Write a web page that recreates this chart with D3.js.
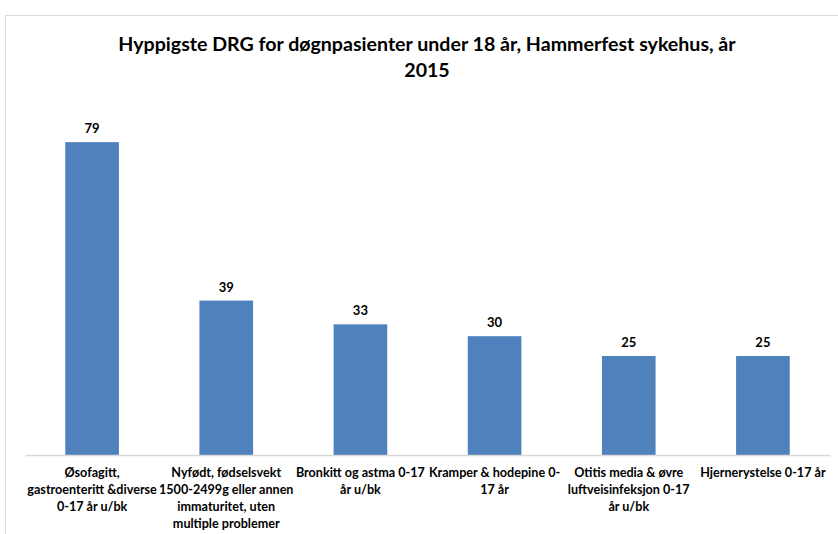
<!DOCTYPE html>
<html>
<head>
<meta charset="utf-8">
<script src="https://cdn.jsdelivr.net/npm/d3@7/dist/d3.min.js"></script>
<style>
  html, body { margin: 0; padding: 0; background: #fff; }
  svg { display: block; }
  text { font-family: Lato, "Open Sans", sans-serif; font-weight: bold; fill: #000; }
</style>
</head>
<body>
<svg id="chart" width="838" height="534"></svg>
<script>
// Most frequent DRG groups, inpatients under 18, Hammerfest hospital 2015
const categories = [
  "Øsofagitt, gastroenteritt &diverse 0-17 år u/bk",
  "Nyfødt, fødselsvekt 1500-2499g eller annen immaturitet, uten multiple problemer",
  "Bronkitt og astma 0-17 år u/bk",
  "Kramper & hodepine 0-17 år",
  "Otitis media & øvre luftveisinfeksjon 0-17 år u/bk",
  "Hjernerystelse 0-17 år"
];
const values = [79, 39, 33, 30, 25, 25];
const labelLines = [
  ["Øsofagitt,", "gastroenteritt &diverse", "0-17 år u/bk"],
  ["Nyfødt, fødselsvekt", "1500-2499g eller annen", "immaturitet, uten", "multiple problemer"],
  ["Bronkitt og astma 0-17", "år u/bk"],
  ["Kramper & hodepine 0-", "17 år"],
  ["Otitis media & øvre", "luftveisinfeksjon 0-17", "år u/bk"],
  ["Hjernerystelse 0-17 år"]
];
const titleLines = ["Hyppigste DRG for døgnpasienter under 18 år, Hammerfest sykehus, år", "2015"];

const svg = d3.select("#chart");

// chart area frame
svg.append("rect")
  .attr("x", 5.5).attr("y", 15.5)
  .attr("width", 900).attr("height", 600)
  .attr("fill", "#fff")
  .attr("stroke", "#d9d9d9").attr("stroke-width", 1);

const plot = { left: 25, right: 830, top: 60, bottom: 455 };

const x = d3.scaleBand()
  .domain(categories)
  .range([plot.left, plot.right])
  .paddingInner(0).paddingOuter(0);

const y = d3.scaleLinear()
  .domain([0, 100])
  .range([plot.bottom, plot.bottom - 396]);

const barW = x.bandwidth() * 0.4;

// title
svg.append("text")
  .attr("x", 427).attr("y", 51)
  .attr("text-anchor", "middle")
  .style("font-size", "19.6px")
  .selectAll("tspan")
  .data(titleLines)
  .join("tspan")
  .attr("x", 427)
  .attr("dy", (d, i) => i === 0 ? 0 : 26)
  .text(d => d);

// bars
svg.append("g")
  .selectAll("rect")
  .data(values)
  .join("rect")
  .attr("x", (d, i) => x(categories[i]) + (x.bandwidth() - barW) / 2)
  .attr("y", d => y(d))
  .attr("width", barW)
  .attr("height", d => y(0) - y(d))
  .attr("fill", "#4f81bd");

// value labels
svg.append("g")
  .selectAll("text")
  .data(values)
  .join("text")
  .attr("x", (d, i) => x(categories[i]) + x.bandwidth() / 2)
  .attr("y", d => y(d) - 9)
  .attr("text-anchor", "middle")
  .style("font-size", "13px")
  .text(d => d);

// category axis
const axis = svg.append("g")
  .attr("transform", `translate(0,${plot.bottom})`)
  .call(d3.axisBottom(x).tickSize(0).tickFormat(""));
axis.select(".domain").attr("stroke", "#d9d9d9").attr("stroke-width", 1.5);

// wrapped category labels
const labels = svg.append("g")
  .selectAll("text")
  .data(categories)
  .join("text")
  .attr("x", d => x(d) + x.bandwidth() / 2)
  .attr("y", 477)
  .attr("text-anchor", "middle")
  .style("font-size", "12.6px");

labels.selectAll("tspan")
  .data((d, i) => labelLines[i])
  .join("tspan")
  .attr("x", function() { return d3.select(this.parentNode).attr("x"); })
  .attr("dy", (d, i) => i === 0 ? 0 : 17)
  .text(d => d);
</script>
</body>
</html>
